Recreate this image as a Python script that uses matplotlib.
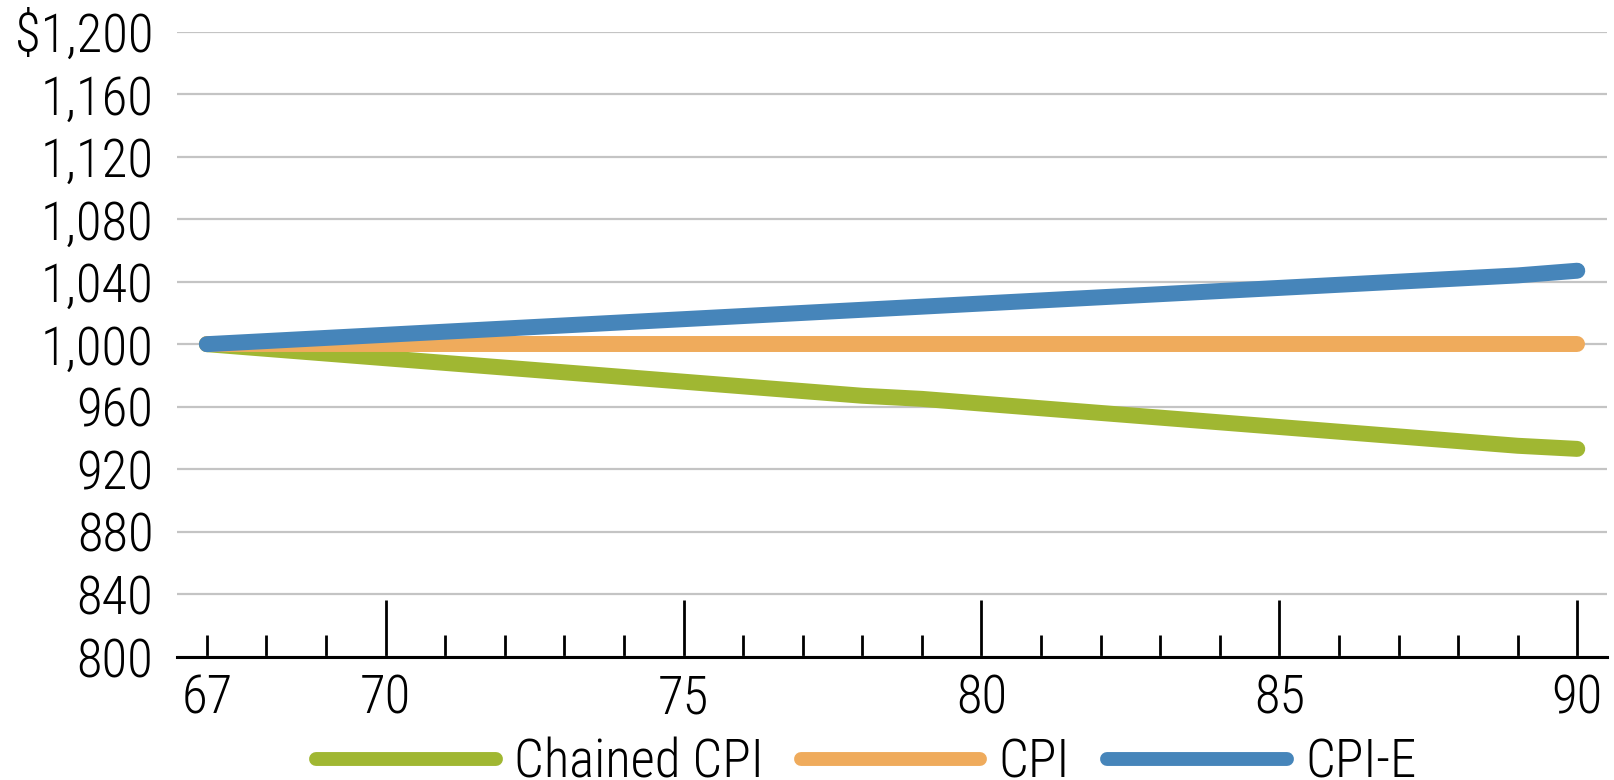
import matplotlib
matplotlib.use("Agg")
import matplotlib.pyplot as plt
from matplotlib.ticker import FixedLocator, FuncFormatter

plt.rcParams['font.family'] = ['Roboto Condensed', 'Asap Condensed', 'Archivo Narrow', 'DejaVu Sans']
plt.rcParams['font.weight'] = 300

# data
ages = list(range(67, 91))
chained_cpi = [1000, 997, 994, 991, 988, 985, 982, 979, 976, 973, 970, 967,
               965, 962, 959, 956, 953, 950, 947, 944, 941, 938, 935, 933]
cpi = [1000] * 24
cpi_e = [1000, 1002, 1004, 1006, 1008, 1010, 1012, 1014, 1016, 1018, 1020, 1022,
         1024, 1026, 1028, 1030, 1032, 1034, 1036, 1038, 1040, 1042, 1044, 1047]
series_names = ['Chained CPI', 'CPI', 'CPI-E']
y_ticks = [800, 840, 880, 920, 960, 1000, 1040, 1080, 1120, 1160, 1200]

colors = ['#a0b732', '#efab5c', '#4685ba']

fig = plt.figure(figsize=(16.14, 7.8), dpi=100)
ax = fig.add_axes([0.1097, 0.158, 0.886, 0.8015])

for vals, name, c in zip([chained_cpi, cpi, cpi_e], series_names, colors):
    ax.plot(ages, vals, color=c, lw=11.5, solid_capstyle='round',
            solid_joinstyle='round', label=name, zorder=3)

ax.set_xlim(66.5, 90.5)
ax.set_ylim(800, 1200)
ax.set_yticks(y_ticks)
ax.yaxis.set_major_formatter(FuncFormatter(
    lambda v, p: r'\$1,200' if v == 1200 else '{:,.0f}'.format(v)))
ax.grid(axis='y', color='#c4c4c4', lw=1.6, zorder=0)
ax.set_axisbelow(True)

# x ticks: tall ones every 5, short ones every year
ax.xaxis.set_major_locator(FixedLocator([70, 75, 80, 85, 90]))
ax.xaxis.set_minor_locator(FixedLocator([a for a in ages if a % 5 != 0]))
ax.xaxis.set_major_formatter(FuncFormatter(lambda v, p: '%d' % v))
ax.xaxis.set_minor_formatter(FuncFormatter(lambda v, p: '67' if v == 67 else ''))
ax.tick_params(axis='x', which='major', direction='in', length=41, width=2,
               labelsize=38, pad=12, color='black')
ax.tick_params(axis='x', which='minor', direction='in', length=16, width=2,
               labelsize=38, pad=12, color='black')
ax.tick_params(axis='y', length=0, labelsize=38, pad=17)

for s in ['top', 'right', 'left']:
    ax.spines[s].set_visible(False)
ax.spines['bottom'].set_linewidth(2.2)
ax.spines['bottom'].set_zorder(4)

leg = ax.legend(loc='center', bbox_to_anchor=(0.482, -0.17), ncol=3,
                frameon=False, fontsize=38, handlelength=3.4, handletextpad=0.35,
                columnspacing=0.7, borderaxespad=0)
for h in leg.get_lines():
    h.set_linewidth(10)
    h.set_solid_capstyle('round')

fig.savefig('out.png', dpi=100)
